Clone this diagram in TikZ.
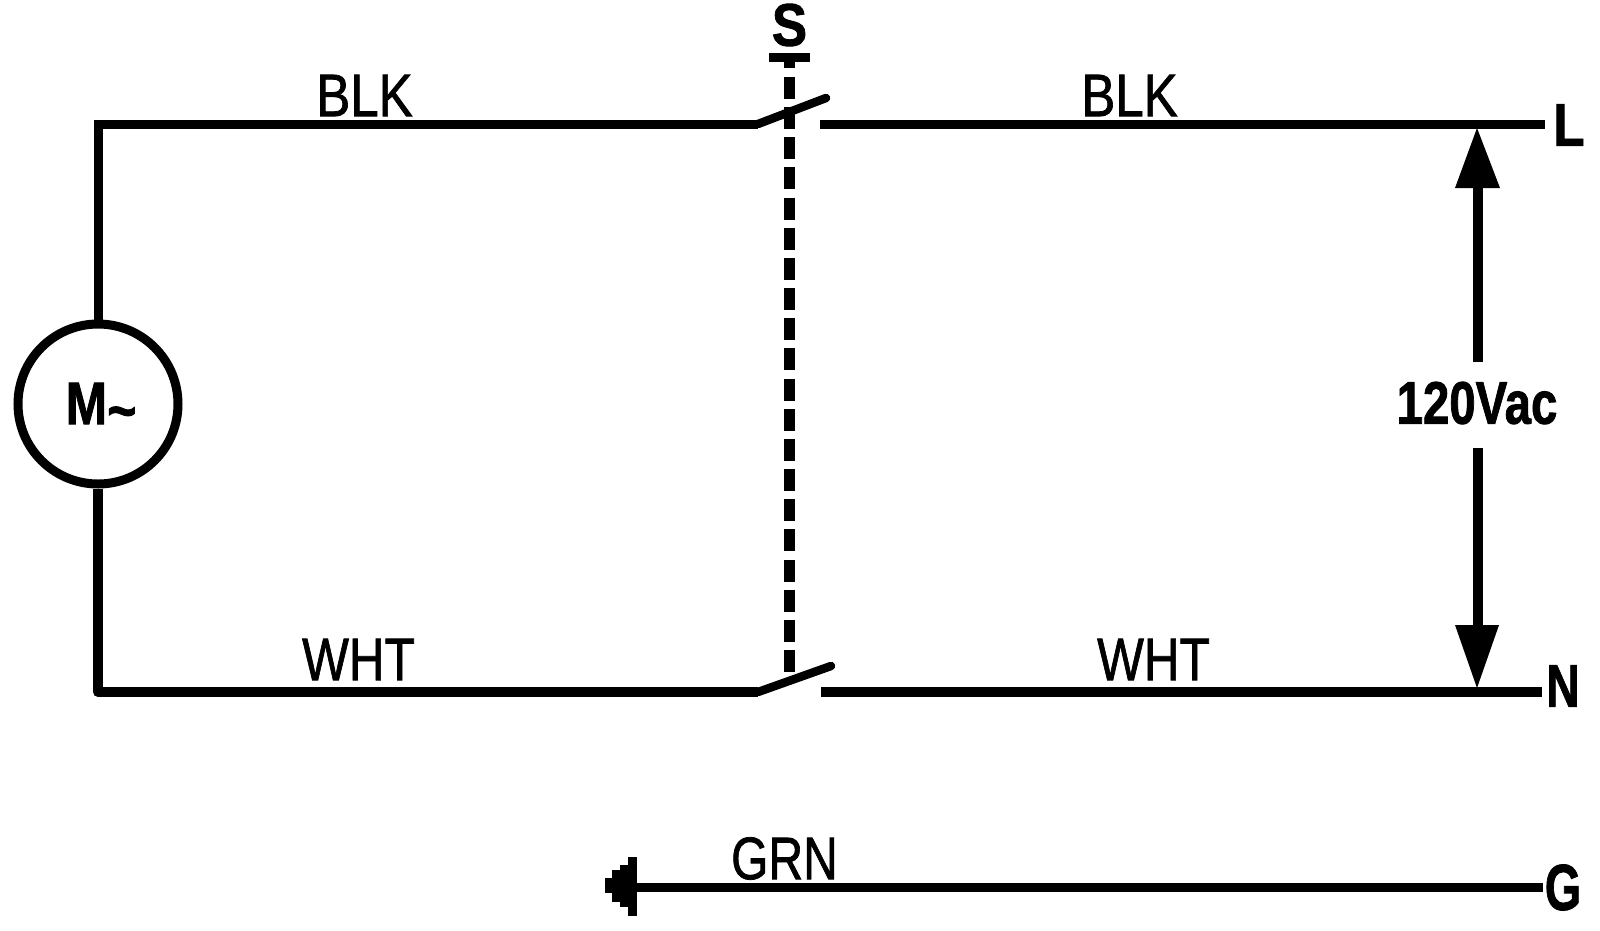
\documentclass[tikz,border=0pt]{standalone}
\usepackage{graphicx}
\usepackage{fontspec}
\setmainfont{Liberation Sans}
\newfontfamily\thickfont[FakeBold=1.3]{Liberation Sans}
\newfontfamily\heavyfont[FakeBold=1.5]{Liberation Sans Bold}
\newcommand{\labtext}[2]{\scalebox{#1}[1]{#2}}
\begin{document}
\begin{tikzpicture}[x=1pt,y=-1pt,
  wire/.style={line width=9pt,line cap=butt},
  lowwire/.style={line width=10pt,line cap=butt},
  blade/.style={line width=8.5pt,line cap=round},
  link/.style={line width=11pt,dash pattern=on 22pt off 8.16pt},
  lab/.style={inner sep=0pt,font=\thickfont\fontsize{60}{60}\selectfont},
  blab/.style={inner sep=0pt,font=\heavyfont\fontsize{60}{60}\selectfont},
  shaft/.style={line width=10pt}]
\useasboundingbox (0,0) rectangle (1600,930);
\node[circle,draw,line width=9pt,minimum size=160pt,inner sep=0pt] (motor) at (98,404) {};
\node[blab] (mtxt) at (101,407) {\labtext{.83}{M\raisebox{-7pt}{\textasciitilde}}};
\coordinate (tl) at (98,124);
\coordinate (bl) at (98,692);
\coordinate (s1a) at (758,124);
\coordinate (s1b) at (826,98);
\coordinate (s1c) at (820,124);
\coordinate (s2a) at (758,692);
\coordinate (s2b) at (831,666);
\coordinate (s2c) at (821,692);
\coordinate (L) at (1545,124);
\coordinate (N) at (1542,692);
\coordinate (G) at (1543,887);
\coordinate (gnd) at (636,887);
\draw[wire,line join=miter] (motor.north) -- (tl) -- (s1a);
\draw[lowwire,line join=round] (motor.south) -- (bl) -- (s2a);
\draw[blade] (s1a) -- (s1b);
\draw[blade] (s2a) -- (s2b);
\draw[wire] (s1c) -- (L);
\draw[lowwire] (s2c) -- (N);
\draw[wire] (gnd) -- (G);
\draw[line width=9pt] (769,57.5) -- (810,57.5);
\draw[line width=11pt] (789.5,57.5) -- (789.5,68);
\draw[link] (789.5,77) -- (789.5,672);
\node[blab] (S) at (789.5,25) {\labtext{.88}{S}};
\node[lab] (b1) at (364.5,95.5) {\labtext{.85}{BLK}};
\node[lab] (b2) at (1129.5,95.5) {\labtext{.85}{BLK}};
\node[lab] (w1) at (358.5,659.5) {\labtext{.825}{WHT}};
\node[lab] (w2) at (1153.5,659.5) {\labtext{.825}{WHT}};
\node[lab] (g1) at (784.5,858.5) {\labtext{.8}{GRN}};
\node[blab] (nL) at (1569,125) {\labtext{.85}{L}};
\node[blab] (nN) at (1563,686) {\labtext{.77}{N}};
\node[blab] (nG) at (1563,887.5) {\labtext{.72}{\fontsize{65}{65}\selectfont G}};
\node[blab] (volt) at (1477,403) {\labtext{.79}{120Vac}};
\draw[shaft] (1478,186) -- (1478,362);
\draw[shaft] (1478,448) -- (1478,627);
\fill (1477,128) -- (1500,188) -- (1455,188) -- cycle;
\fill (1477,688) -- (1499,625) -- (1455,625) -- cycle;
\fill (637,857) rectangle (628,916);
\fill (628,865) rectangle (620,907);
\fill (620,870) rectangle (612,902);
\fill (612,878) rectangle (605,893);
\end{tikzpicture}
\end{document}
